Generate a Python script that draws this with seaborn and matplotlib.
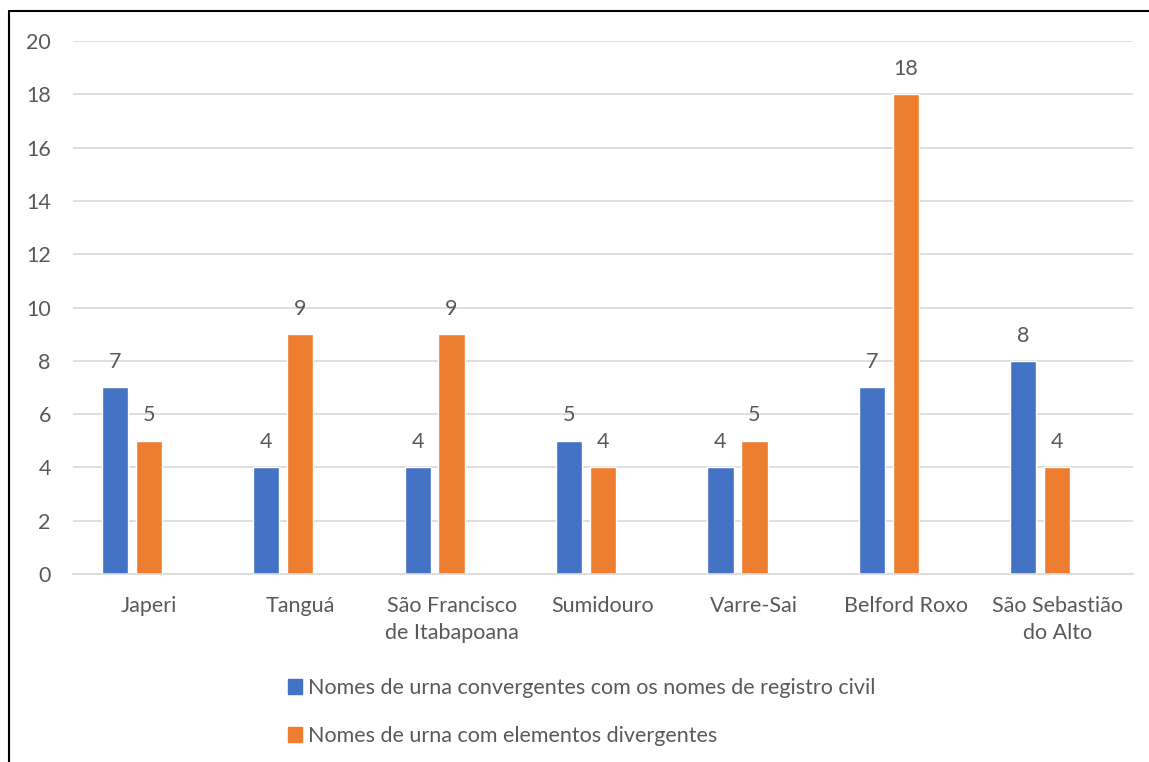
import matplotlib.pyplot as plt
import matplotlib.patches as mpatches
import seaborn as sns
import pandas as pd

# Dados do gráfico
municipios = ['Japeri', 'Tanguá', 'São Francisco\nde Itabapoana', 'Sumidouro',
              'Varre-Sai', 'Belford Roxo', 'São Sebastião\ndo Alto']
convergentes = [7, 4, 4, 5, 4, 7, 8]
divergentes = [5, 9, 9, 4, 5, 18, 4]
series = ['Nomes de urna convergentes com os nomes de registro civil',
          'Nomes de urna com elementos divergentes']
# o gráfico original reserva espaço para uma terceira série vazia
serie_vazia = ' '
cores = ['#4472C4', '#ED7D31']
cor_texto = '#595959'

df = pd.DataFrame({
    'municipio': municipios * 2,
    'valor': convergentes + divergentes,
    'serie': [series[0]] * len(municipios) + [series[1]] * len(municipios),
})

sns.set_theme(style="white")
plt.rcParams['font.family'] = ['Lato', 'DejaVu Sans']
fs = 15.5

fig = plt.figure(figsize=(11.49, 7.62), dpi=100)
ax = fig.add_axes([73 / 1149, 1 - 574 / 762, 1060 / 1149, 533 / 762])

paleta = {series[0]: cores[0], series[1]: cores[1], serie_vazia: 'white'}
sns.barplot(data=df, x='municipio', y='valor', hue='serie',
            hue_order=series + [serie_vazia], palette=paleta,
            width=0.673, gap=0.23, ax=ax, legend=False, saturation=1)

ax.set_ylim(0, 20)
ax.set_yticks(range(0, 21, 2))
ax.set_xlim(-0.5, len(municipios) - 0.5)
ax.yaxis.grid(True, color='#D9D9D9', linewidth=1.2)
ax.set_axisbelow(True)
for s in ['top', 'right', 'left']:
    ax.spines[s].set_visible(False)
ax.spines['bottom'].set_color('#D9D9D9')
ax.spines['bottom'].set_linewidth(1.2)
ax.set_xlabel('')
ax.set_ylabel('')
ax.tick_params(axis='both', length=0, labelsize=fs, labelcolor=cor_texto)
ax.tick_params(axis='y', pad=16)
ax.tick_params(axis='x', pad=16)
for t in ax.get_xticklabels():
    t.set_linespacing(1.45)

for cont in ax.containers:
    if len(cont) and cont.datavalues is not None:
        ax.bar_label(cont, padding=11, fontsize=fs, color=cor_texto)

# Legenda abaixo do gráfico
handles = [mpatches.Patch(color=c, label=l) for c, l in zip(cores, series)]
fig.legend(handles=handles, loc='upper left', bbox_to_anchor=(288 / 1149, 1 - 678 / 762),
           ncol=1, frameon=False, fontsize=fs, labelcolor=cor_texto,
           borderpad=0, borderaxespad=0,
           handlelength=0.65, handleheight=0.65, handletextpad=0.3, labelspacing=1.3)

# Moldura do gráfico
fig.add_artist(plt.Line2D([9 / 1149, 9 / 1149], [0, 1 - 11 / 762], color='black',
                          linewidth=1.5, transform=fig.transFigure))
fig.add_artist(plt.Line2D([9 / 1149, 1], [1 - 11 / 762, 1 - 11 / 762], color='black',
                          linewidth=1.5, transform=fig.transFigure))

fig.savefig('out.png', dpi=100)
